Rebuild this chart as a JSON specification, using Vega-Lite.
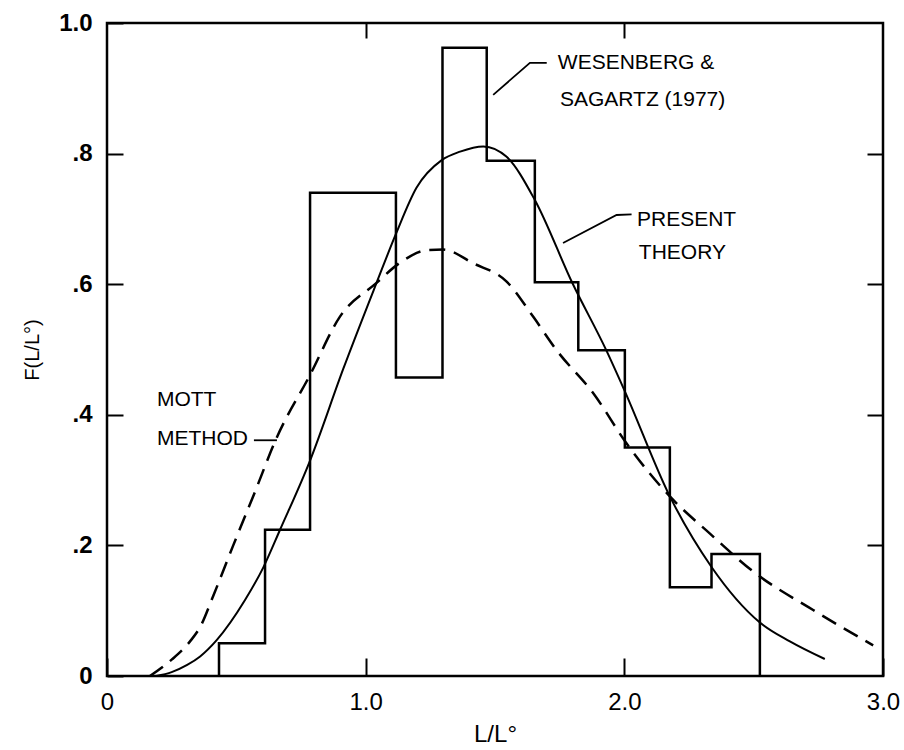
{
  "$schema": "https://vega.github.io/schema/vega-lite/v6.json",
  "width": 776,
  "height": 653,
  "autosize": "none",
  "padding": {"left": 107, "top": 23, "right": 21, "bottom": 74},
  "background": "white",
  "config": {
    "view": {"stroke": "black", "strokeWidth": 2.5},
    "axis": {"domain": false, "grid": false, "tickColor": "black", "tickWidth": 2, "labelColor": "black", "titleColor": "black", "labelFont": "Liberation Sans", "titleFont": "Liberation Sans"}
  },
  "datasets": {
    "hist": [
      {"i": 0, "x": 0.433, "f": 0},
      {"i": 1, "x": 0.433, "f": 0.05},
      {"i": 2, "x": 0.611, "f": 0.224},
      {"i": 3, "x": 0.785, "f": 0.74},
      {"i": 4, "x": 0.951, "f": 0.74},
      {"i": 5, "x": 1.117, "f": 0.457},
      {"i": 6, "x": 1.297, "f": 0.962},
      {"i": 7, "x": 1.468, "f": 0.789},
      {"i": 8, "x": 1.654, "f": 0.603},
      {"i": 9, "x": 1.822, "f": 0.499},
      {"i": 10, "x": 2.002, "f": 0.35},
      {"i": 11, "x": 2.176, "f": 0.136},
      {"i": 12, "x": 2.337, "f": 0.187},
      {"i": 13, "x": 2.524, "f": 0}
    ],
    "present": [
      {"x": 0.19, "f": 0}, {"x": 0.25, "f": 0.006}, {"x": 0.31, "f": 0.017}, {"x": 0.36, "f": 0.03},
      {"x": 0.424, "f": 0.055}, {"x": 0.533, "f": 0.116}, {"x": 0.604, "f": 0.166}, {"x": 0.669, "f": 0.224},
      {"x": 0.785, "f": 0.33}, {"x": 0.914, "f": 0.471}, {"x": 1.042, "f": 0.602}, {"x": 1.117, "f": 0.677},
      {"x": 1.197, "f": 0.748}, {"x": 1.294, "f": 0.79}, {"x": 1.365, "f": 0.803}, {"x": 1.455, "f": 0.811},
      {"x": 1.545, "f": 0.795}, {"x": 1.654, "f": 0.729}, {"x": 1.8, "f": 0.601}, {"x": 1.93, "f": 0.499},
      {"x": 2.002, "f": 0.436}, {"x": 2.176, "f": 0.275}, {"x": 2.337, "f": 0.167}, {"x": 2.524, "f": 0.082},
      {"x": 2.64, "f": 0.053}, {"x": 2.775, "f": 0.026}
    ],
    "mott": [
      {"x": 0.166, "f": 0}, {"x": 0.25, "f": 0.025}, {"x": 0.321, "f": 0.053}, {"x": 0.36, "f": 0.075},
      {"x": 0.411, "f": 0.123}, {"x": 0.488, "f": 0.2}, {"x": 0.57, "f": 0.28}, {"x": 0.656, "f": 0.365}, {"x": 0.785, "f": 0.461},
      {"x": 0.9, "f": 0.55}, {"x": 1.042, "f": 0.602}, {"x": 1.133, "f": 0.633}, {"x": 1.236, "f": 0.652},
      {"x": 1.3, "f": 0.653}, {"x": 1.416, "f": 0.632}, {"x": 1.545, "f": 0.604}, {"x": 1.648, "f": 0.55},
      {"x": 1.738, "f": 0.499}, {"x": 1.88, "f": 0.433}, {"x": 2.009, "f": 0.356}, {"x": 2.176, "f": 0.275},
      {"x": 2.331, "f": 0.218}, {"x": 2.498, "f": 0.16}, {"x": 2.73, "f": 0.101}, {"x": 2.962, "f": 0.047}
    ],
    "leaders": [
      {"g": 1, "i": 0, "x": 1.493, "f": 0.89}, {"g": 1, "i": 1, "x": 1.635, "f": 0.939}, {"g": 1, "i": 2, "x": 1.7, "f": 0.939},
      {"g": 2, "i": 0, "x": 1.763, "f": 0.663}, {"g": 2, "i": 1, "x": 1.97, "f": 0.706}, {"g": 2, "i": 2, "x": 2.028, "f": 0.707},
      {"g": 3, "i": 0, "x": 0.568, "f": 0.361}, {"g": 3, "i": 1, "x": 0.657, "f": 0.361}
    ],
    "notes": [
      {"x": 1.743, "f": 0.939, "t": "WESENBERG &"},
      {"x": 1.751, "f": 0.882, "t": "SAGARTZ (1977)"},
      {"x": 2.049, "f": 0.698, "t": "PRESENT"},
      {"x": 2.056, "f": 0.648, "t": "THEORY"},
      {"x": 0.193, "f": 0.423, "t": "MOTT"},
      {"x": 0.193, "f": 0.363, "t": "METHOD"}
    ]
  },
  "resolve": {"axis": {"x": "independent", "y": "independent"}},
  "layer": [
    {
      "data": {"name": "hist"},
      "mark": {"type": "line", "interpolate": "step-after", "stroke": "black", "strokeWidth": 2.5},
      "encoding": {
        "x": {"field": "x", "type": "quantitative", "scale": {"domain": [0, 3], "nice": false, "zero": false},
          "axis": {"orient": "bottom", "values": [0, 1, 2, 3], "tickSize": -18, "labelPadding": 32, "labelFlush": false, "labelFontSize": 24,
            "labelExpr": "datum.value == 0 ? '0' : format(datum.value, '.1f')",
            "title": "L/L°", "titleFontSize": 24, "titleFontWeight": "normal", "titlePadding": 8}},
        "y": {"field": "f", "type": "quantitative", "scale": {"domain": [0, 1], "nice": false},
          "axis": {"orient": "left", "values": [0, 0.2, 0.4, 0.6, 0.8, 1], "tickSize": -16, "labelPadding": 31, "labelFontSize": 24, "labelFontWeight": "bold",
            "labelExpr": "datum.value == 0 ? '0' : datum.value == 1 ? '1.0' : '.' + round(datum.value * 10)",
            "title": "F(L/L°)", "titleFontSize": 20, "titleFontWeight": "normal", "titlePadding": 16}},
        "order": {"field": "i", "type": "quantitative"}
      }
    },
    {
      "data": {"name": "present"},
      "mark": {"type": "line", "interpolate": "monotone", "stroke": "black", "strokeWidth": 2},
      "encoding": {
        "x": {"field": "x", "type": "quantitative", "axis": {"orient": "top", "values": [1, 2], "tickSize": -15, "labels": false, "title": null}},
        "y": {"field": "f", "type": "quantitative", "axis": {"orient": "right", "values": [0.2, 0.4, 0.6, 0.8], "tickSize": -16, "labels": false, "title": null}}
      }
    },
    {
      "data": {"name": "mott"},
      "mark": {"type": "line", "interpolate": "monotone", "stroke": "black", "strokeWidth": 2.5, "strokeDash": [16, 9]},
      "encoding": {
        "x": {"field": "x", "type": "quantitative", "axis": null},
        "y": {"field": "f", "type": "quantitative", "axis": null}
      }
    },
    {
      "data": {"name": "leaders"},
      "mark": {"type": "line", "stroke": "black", "strokeWidth": 1.8},
      "encoding": {
        "x": {"field": "x", "type": "quantitative", "axis": null},
        "y": {"field": "f", "type": "quantitative", "axis": null},
        "detail": {"field": "g", "type": "nominal"},
        "order": {"field": "i", "type": "quantitative"}
      }
    },
    {
      "data": {"name": "notes"},
      "mark": {"type": "text", "align": "left", "baseline": "middle", "font": "Liberation Sans", "fontSize": 21, "color": "black"},
      "encoding": {
        "x": {"field": "x", "type": "quantitative", "axis": null},
        "y": {"field": "f", "type": "quantitative", "axis": null},
        "text": {"field": "t", "type": "nominal"}
      }
    }
  ]
}
